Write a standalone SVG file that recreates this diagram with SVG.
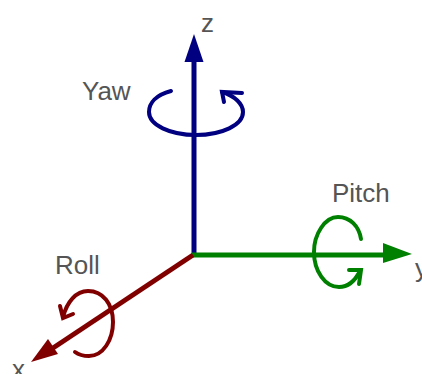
<svg xmlns="http://www.w3.org/2000/svg" width="422" height="374" viewBox="0 0 422 374">
<style>
text{font-family:"Liberation Sans",Arial,sans-serif;font-size:26px;fill:#555555}
.l{fill:none;stroke-width:5}
.a{fill:none;stroke-width:4;stroke-linecap:round;stroke-linejoin:miter}
.z{stroke:#000080}.y{stroke:#008000}.x{stroke:#800000}
</style>
<rect width="422" height="374" fill="#ffffff"/>
<g id="connectors">
<path class="l z" d="M194 62V257"/>
<path fill="#000080" d="M194 34L203.500 62H184.500Z"/>
<path class="l y" d="M192 255H384"/>
<path fill="#008000" d="M412 254L383 243V263Z"/>
<path class="l x" d="M193 255L50 350"/>
<path fill="#800000" d="M31 362L48 339L58 354Z"/>
</g>
<g id="yaw">
<path class="a z" d="M171 91C156 95 149 103 149 112C149 125 170 135 196 135C222 135 243 125 243 112C243 104 235 96 222 92"/>
<path class="a z" d="M242 93L222 92L224 102"/>
<text x="82" y="100">Yaw</text>
</g>
<g id="pitch">
<path class="a y" d="M361 239C359 226 350 217 338 217C325 217 314 234 314 252C314 271 325 287 339 287C348 287 355 281 360 271"/>
<path class="a y" d="M349 270L361 270L359 284"/>
<text x="332" y="202">Pitch</text>
</g>
<g id="roll">
<path class="a x" d="M75 352C79 355 83 356 89 356C103 356 113 340 113 322C113 304 103 291 88 291C76 291 67 302 63 317"/>
<path class="a x" d="M60 306L63 318L73 314"/>
<text x="55" y="274">Roll</text>
</g>
<g id="z-label"><text x="201" y="32">z</text></g>
<g id="y-label"><text x="415" y="277">y</text></g>
<g id="x-label"><text x="12" y="378">x</text></g>
</svg>
